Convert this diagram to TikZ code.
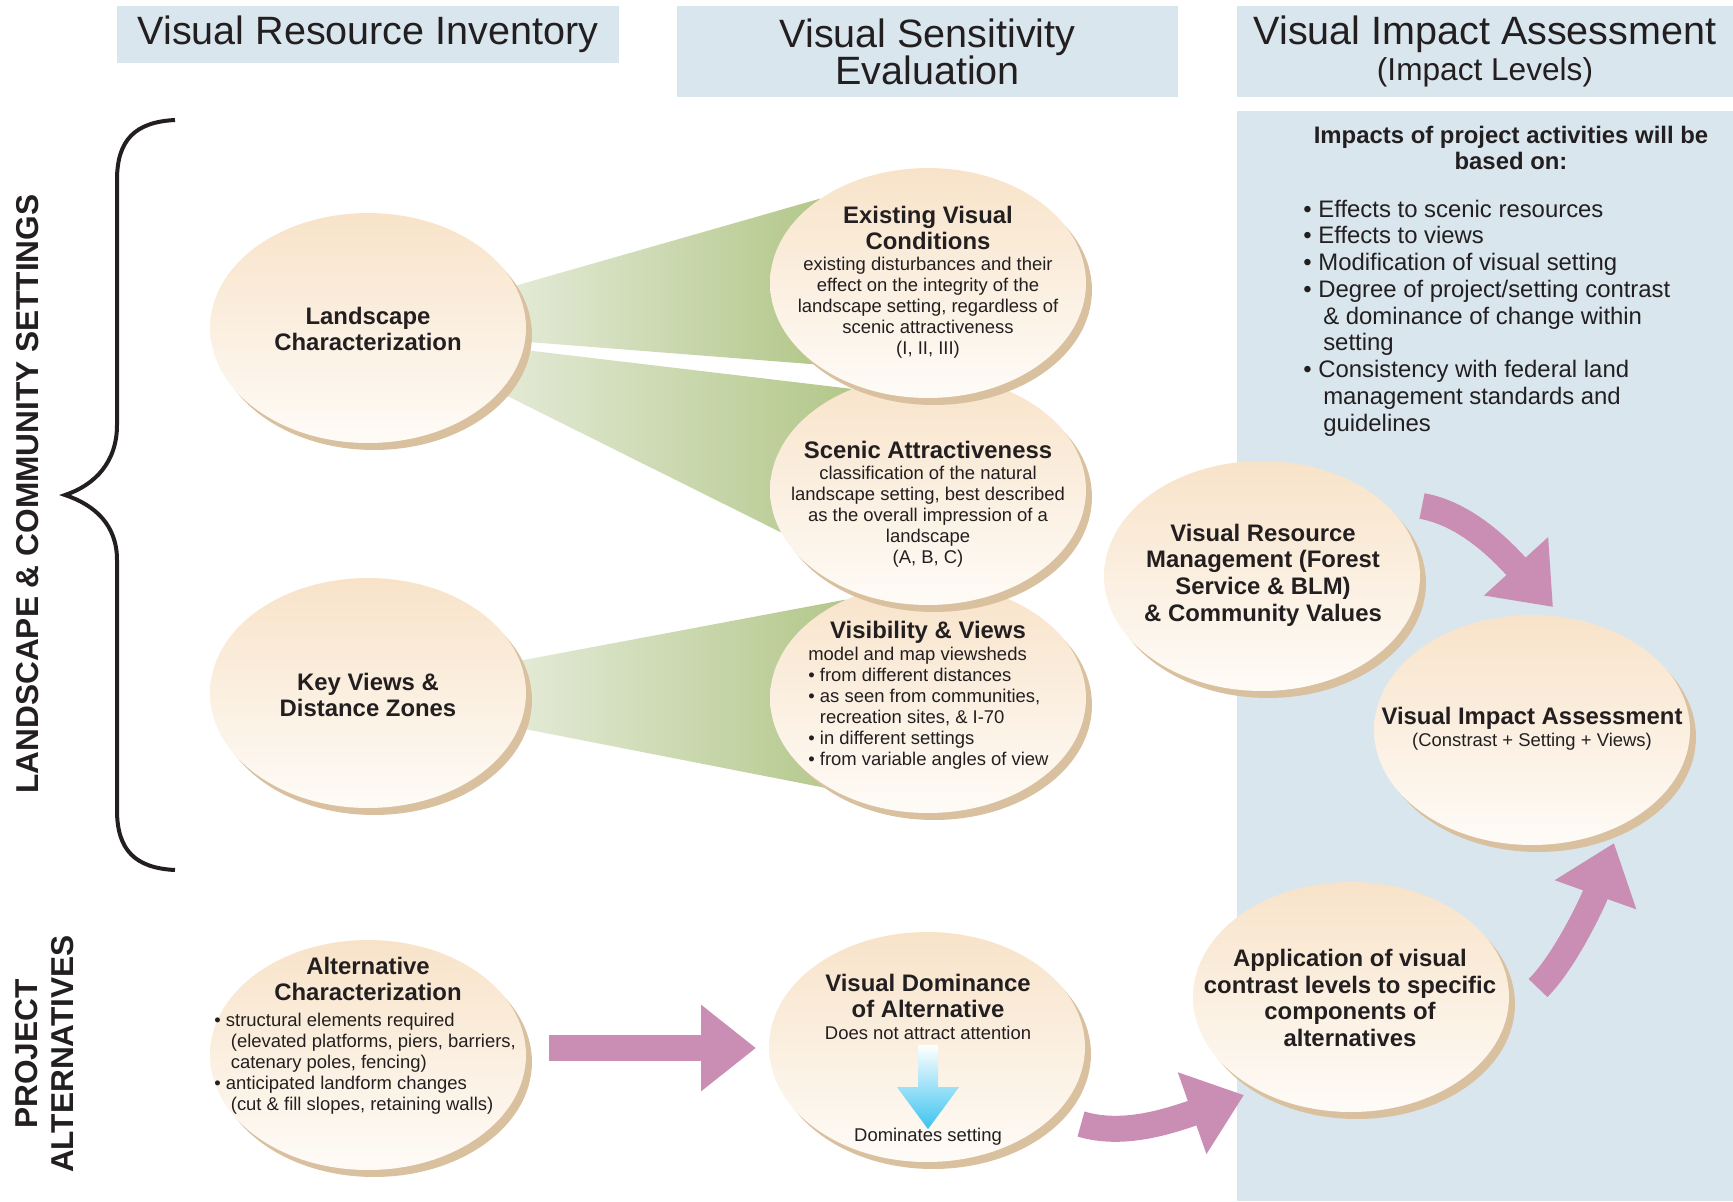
\documentclass[tikz,border=0pt]{standalone}
\usepackage{fontspec}
\setmainfont{Liberation Sans}
\usepackage{xcolor}
\usetikzlibrary{arrows.meta, shapes.geometric, shadows, backgrounds, calc}

\definecolor{hdrblue}{HTML}{D9E6EE}
\definecolor{ink}{HTML}{231F20}
\definecolor{bubtop}{HTML}{F8E3C9}
\definecolor{bubbot}{HTML}{FEFBF7}
\definecolor{bubrim}{HTML}{D9C1A0}
\definecolor{leafpale}{HTML}{E3EAD6}
\definecolor{leafgreen}{HTML}{B3C78A}
\definecolor{flowpink}{HTML}{CA8DB4}
\definecolor{skyblue}{HTML}{3BC3EF}

\newcommand{\bul}{•\ }
\newcommand{\bulind}{\hphantom{•\ }}

\begin{document}
\begin{tikzpicture}[x=0.02cm, y=-0.02cm,
  header/.style={fill=hdrblue, inner sep=0pt, align=center, text=ink, font=\fontsize{22.5}{21}\selectfont},
  bubble/.style={ellipse, minimum width=6.32cm, minimum height=4.6cm, inner sep=0pt,
    top color=bubtop, bottom color=bubbot,
    drop shadow={shadow xshift=0.12cm, shadow yshift=-0.14cm, fill=bubrim, opacity=1}},
  btitle/.style={font=\bfseries\fontsize{13.6}{15.2}\selectfont, text=ink, align=center, inner sep=0pt},
  btext/.style={font=\fontsize{10.5}{11.9}\selectfont, text=ink, align=center, inner sep=0pt},
  blist/.style={btext, align=left, anchor=west},
  plist/.style={font=\fontsize{13.6}{15.25}\selectfont, text=ink, align=left, anchor=west, inner sep=0pt},
  sidelabel/.style={font=\bfseries\fontsize{18}{20.5}\selectfont, text=ink, rotate=90, align=center, inner sep=0pt},
  funnel/.style={left color=leafpale, right color=leafgreen},
  bigarrow/.style={draw=flowpink, line width=0.52cm, -{Triangle[length=1.1cm, width=1.66cm]}},
  dropflow/.style={top color=white, bottom color=skyblue}
]
  \useasboundingbox (0,0) rectangle (1733,1201);

  % column headers
  \node[header, minimum width=10.04cm, minimum height=1.14cm] (inv) at (368,34.5) {Visual Resource Inventory};
  \node[header, minimum width=10.02cm, minimum height=1.82cm] (sens) at (927.5,51.5) {Visual Sensitivity\\Evaluation};
  \node[header, minimum width=9.92cm, minimum height=1.82cm] (imp) at (1485,51.5) {Visual Impact Assessment\\{\fontsize{18}{18}\selectfont(Impact Levels)}};

  % impact column background
  \fill[hdrblue] (1237,111) rectangle (1733,1201);

  % side labels and brace
  \node[sidelabel] (lcs) at (28,494) {LANDSCAPE \& COMMUNITY SETTINGS};
  \node[sidelabel] (pa) at (45,1054) {PROJECT\\ALTERNATIVES};
  \draw[ink, line width=0.08cm] (175,120) .. controls (135,122) and (117,140) .. (117,180) -- (117,425)
    .. controls (117,462) and (95,485) .. (65,495) .. controls (95,505) and (117,525) .. (117,560)
    -- (117,810) .. controls (117,850) and (135,868) .. (175,870);

  % bubbles
  \node[bubble] (lc) at (368,328) {};
  \node[bubble] (kv) at (368,693) {};
  \node[bubble] (ac) at (368,1055) {};
  \node[bubble] (vv) at (928,698) {};
  \node[bubble] (sa) at (928,490) {};
  \node[bubble] (evc) at (928,283) {};
  \node[bubble] (vd) at (927,1047) {};
  \node[bubble] (vrm) at (1262,576) {};
  \node[bubble] (via) at (1532,730) {};
  \node[bubble] (app) at (1351,997) {};

  % green funnels behind the bubbles
  \begin{pgfonlayer}{background}
    \shade[funnel] (lc.16) -- (evc.142) -- (evc.216) -- (lc.-5) -- cycle;
    \shade[funnel] (lc.-8) -- (sa.127) -- (sa.196) -- (lc.-26) -- cycle;
    \shade[funnel] (kv.12) -- (vv.130) -- (vv.223) -- (kv.-13) -- cycle;
  \end{pgfonlayer}

  % bubble texts
  \node[btitle] (lc-t) at (368,329) {Landscape\\Characterization};
  \node[btitle] (kv-t) at (368,695) {Key Views \&\\Distance Zones};
  \node[btitle] (ac-t) at (368,979) {Alternative\\Characterization};
  \node[blist] (ac-b) at (214,1064) {\bul structural elements required\\
    \bulind\hspace{2.8pt}(elevated platforms, piers, barriers,\\
    \bulind\hspace{2.8pt}catenary poles, fencing)\\
    \bul anticipated landform changes\\
    \bulind\hspace{2.8pt}(cut \& fill slopes, retaining walls)};

  \node[btitle] (evc-t) at (928,228) {Existing Visual\\Conditions};
  \node[btext] (evc-b) at (928,308) {existing disturbances and their\\effect on the integrity of the\\landscape setting, regardless of\\scenic attractiveness\\(I, II, III)};
  \node[btitle] (sa-t) at (928,450) {Scenic Attractiveness};
  \node[btext] (sa-b) at (928,517) {classification of the natural\\landscape setting, best described\\as the overall impression of a\\landscape\\(A, B, C)};
  \node[btitle] (vv-t) at (928,632) {Visibility \& Views};
  \node[blist] (vv-b) at (808,708) {model and map viewsheds\\\bul from different distances\\\bul as seen from communities,\\\bulind recreation sites, \& I-70\\\bul in different settings\\\bul from variable angles of view};

  \node[btitle] (vd-t) at (928,996) {Visual Dominance\\of Alternative};
  \node[btext] (vd-top) at (928,1033) {Does not attract attention};
  \node[btext] (vd-bot) at (928,1137) {Dominates setting};
  \shade[dropflow] ($(vd-top.south)+(-10,5)$) -- ++(20,0) -- ++(0,42) -- ++(21,0) -- ++(-31,42)
    -- ++(-31,-42) -- ++(21,0) -- cycle;

  \node[btitle] (vrm-t) at (1263,575) {Visual Resource\\Management (Forest\\Service \& BLM)\\\& Community Values};
  \node[btitle] (via-t) at (1532,718) {Visual Impact Assessment};
  \node[btext] (via-b) at (1532,742) {(Constrast + Setting + Views)};
  \node[btitle] (app-t) at (1350,998) {Application of visual\\contrast levels to specific\\components of\\alternatives};

  % basis of the impact levels
  \node[btitle] (basis-t) at (1511,148) {Impacts of project activities will be\\based on:};
  \node[plist] (basis-l) at (1303,318) {\bul Effects to scenic resources\\
    \bul Effects to views\\
    \bul Modification of visual setting\\
    \bul Degree of project/setting contrast\\
    \bulind\hspace{2.8pt}\& dominance of change within\\
    \bulind\hspace{2.8pt}setting\\
    \bul Consistency with federal land\\
    \bulind\hspace{2.8pt}management standards and\\
    \bulind\hspace{2.8pt}guidelines};

  % flow arrows
  \coordinate (ac-out) at (549,1048);
  \coordinate (vd-in) at (756,1048);
  \coordinate (vd-out) at (1081,1124);
  \coordinate (app-in) at (1244,1095);
  \coordinate (app-out) at (1538,988);
  \coordinate (via-in) at (1614,843);
  \coordinate (vrm-out) at (1422,506);
  \coordinate (via-top) at (1553,607);

  \draw[bigarrow] (ac-out) -- (vd-in);
  \draw[bigarrow] (vd-out) .. controls +(40,12) and +(-80,28) .. (app-in);
  \draw[bigarrow] (app-out) .. controls +(28,-28) and +(-20,56) .. (via-in);
  \draw[bigarrow] (vrm-out) .. controls +(45,8) and +(-50,-55) .. (via-top);

\end{tikzpicture}
\end{document}
